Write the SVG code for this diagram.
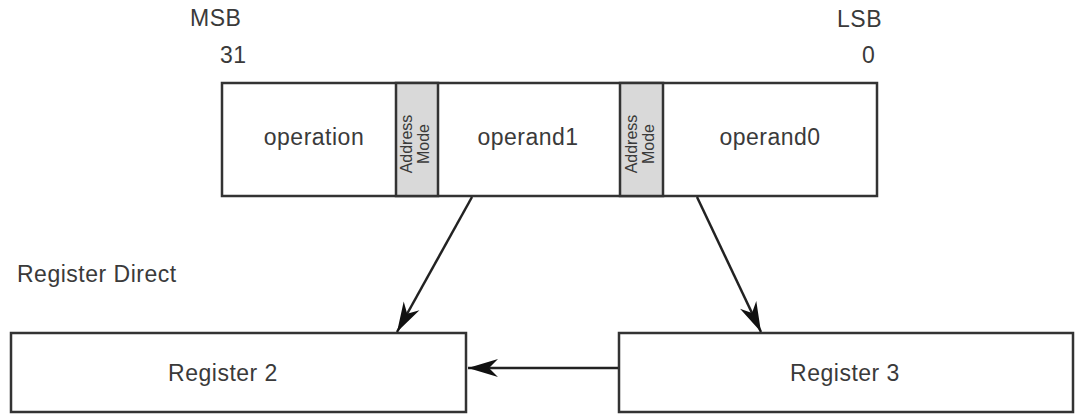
<svg xmlns="http://www.w3.org/2000/svg" width="1076" height="415" viewBox="0 0 1076 415">
<style>
  .t { font-family: "Liberation Sans", Arial, sans-serif; font-size: 23px; fill: #3a3a3a; letter-spacing: 0.5px; }
  .s { font-family: "Liberation Sans", Arial, sans-serif; font-size: 16px; fill: #3a3a3a; }
  .box { fill: #ffffff; stroke: #333333; stroke-width: 2.5; }
  .am { fill: #d9d9d9; stroke: #333333; stroke-width: 2.5; }
  .c { stroke: #222222; stroke-width: 2.5; fill: none; }
</style>
<defs>
  <marker id="ah" markerUnits="userSpaceOnUse" markerWidth="34" markerHeight="22" viewBox="-32 -11 34 22" refX="0" refY="0" orient="auto">
    <path d="M0,0 L-30,-9 L-21,0 L-30,9 Z" fill="#111111"/>
  </marker>
</defs>
<rect width="1076" height="415" fill="#ffffff"/>

<g id="labels">
  <text class="t" x="190" y="26">MSB</text>
  <text class="t" x="220" y="63">31</text>
  <text class="t" x="837" y="27">LSB</text>
  <text class="t" x="862" y="63">0</text>
  <text class="t" x="17" y="282">Register Direct</text>
</g>

<g id="instruction">
  <rect class="box" x="222" y="83" width="655" height="113"/>
  <text class="t" x="314" y="145" text-anchor="middle">operation</text>
  <text class="t" x="528" y="145" text-anchor="middle">operand1</text>
  <text class="t" x="770" y="145" text-anchor="middle">operand0</text>
</g>

<g id="addrmode1">
  <rect class="am" x="396" y="83" width="42" height="113"/>
  <text class="s" transform="translate(412,144) rotate(-90)" text-anchor="middle">Address</text>
  <text class="s" transform="translate(429,144) rotate(-90)" text-anchor="middle">Mode</text>
</g>

<g id="addrmode2">
  <rect class="am" x="620" y="83" width="43" height="113"/>
  <text class="s" transform="translate(637,144) rotate(-90)" text-anchor="middle">Address</text>
  <text class="s" transform="translate(654,144) rotate(-90)" text-anchor="middle">Mode</text>
</g>

<g id="register2">
  <rect class="box" x="11" y="333" width="455" height="79"/>
  <text class="t" x="223" y="381" text-anchor="middle">Register 2</text>
</g>

<g id="register3">
  <rect class="box" x="619" y="333" width="454" height="79"/>
  <text class="t" x="845" y="381" text-anchor="middle">Register 3</text>
</g>

<g id="connectors">
  <line class="c" x1="472" y1="197" x2="397" y2="332" marker-end="url(#ah)"/>
  <line class="c" x1="697" y1="197" x2="761" y2="332" marker-end="url(#ah)"/>
  <line class="c" x1="618" y1="368" x2="468" y2="368" marker-end="url(#ah)"/>
</g>
</svg>
